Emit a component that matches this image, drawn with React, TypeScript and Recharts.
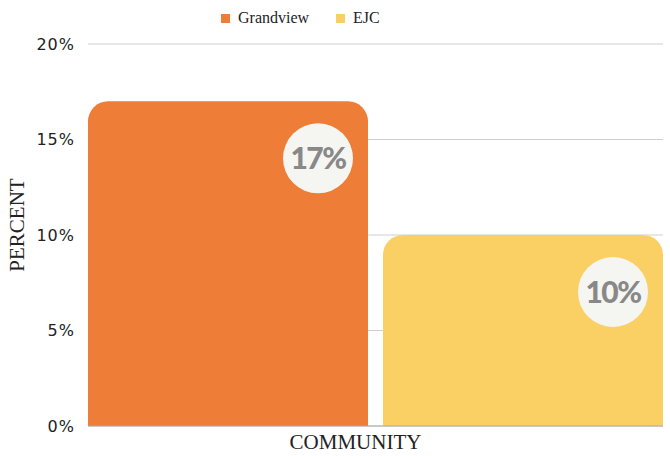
import { Bar, BarChart, CartesianGrid, LabelList, XAxis, YAxis } from "recharts";

const categories = ["COMMUNITY"];
const grandview = [17];
const ejc = [10];
const yTicks = [0, 5, 10, 15, 20];
const seriesNames = ["Grandview", "EJC"];
const seriesColors = ["#ED7D37", "#FAD064"];

const data = categories.map((c, i) => ({ name: c, grandview: grandview[i], ejc: ejc[i] }));

const serif = "'Liberation Serif', serif";
const sans = "Lato, 'Noto Sans', sans-serif";

function BubbleLabel(props: any) {
  const { x, y, width, value } = props;
  const cx = x + width - 50;
  const cy = y + 57;
  return (
    <g>
      <circle cx={cx} cy={cy} r={35} fill="#F5F5F1" />
      <text x={cx} y={cy + 11} textAnchor="middle" fill="#888" fontFamily={sans} fontWeight={900} fontSize={30} letterSpacing={-1.5}>
        {value}%
      </text>
    </g>
  );
}

function CategoryTick(props: any) {
  const { x, payload } = props;
  return (
    <text x={x - 20} y={449} textAnchor="middle" fontFamily={serif} fontSize={21} fill="#222">
      {payload.value}
    </text>
  );
}

function YLabel() {
  return (
    <text x={24} y={225} transform="rotate(-90 24 225)" textAnchor="middle" fontFamily={serif} fontSize={21} fill="#222">
      PERCENT
    </text>
  );
}

export default function App() {
  return (
    <div style={{ position: "relative", width: 670, height: 456, background: "#fff", overflow: "hidden" }}>
      <style>{"html,body{margin:0;padding:0;overflow:hidden;}"}</style>
      <div style={{ position: "absolute", top: 9, left: 221, display: "flex", gap: 27, fontFamily: serif, fontSize: 16, color: "#222", zIndex: 1 }}>
        {seriesNames.map((n, i) => (
          <div key={n} style={{ display: "flex", alignItems: "center" }}>
            <span style={{ width: 9, height: 9, background: seriesColors[i], display: "inline-block", marginRight: 8 }} />
            {n}
          </div>
        ))}
      </div>
      <BarChart width={670} height={456} data={data} margin={{ top: 44, right: 7, left: 0, bottom: 0 }} barCategoryGap={0} barGap={15}>
        <CartesianGrid vertical={false} stroke="#cfcfcf" />
        <XAxis dataKey="name" axisLine={{ stroke: "#aaa" }} tickLine={false} tick={<CategoryTick />} height={30} />
        <YAxis
          domain={[0, 20]}
          ticks={yTicks}
          width={88}
          axisLine={false}
          tickLine={false}
          tickFormatter={(v) => `${v}%`}
          tick={{ fill: "#222", fontSize: 16, letterSpacing: 1, fontFamily: "'DejaVu Sans', sans-serif" }}
          tickMargin={7}
          label={<YLabel />}
        />
        <Bar dataKey="grandview" name={seriesNames[0]} fill={seriesColors[0]} radius={[20, 20, 0, 0]} isAnimationActive={false}>
          <LabelList dataKey="grandview" content={<BubbleLabel />} />
        </Bar>
        <Bar dataKey="ejc" name={seriesNames[1]} fill={seriesColors[1]} radius={[20, 20, 0, 0]} isAnimationActive={false}>
          <LabelList dataKey="ejc" content={<BubbleLabel />} />
        </Bar>
      </BarChart>
    </div>
  );
}
